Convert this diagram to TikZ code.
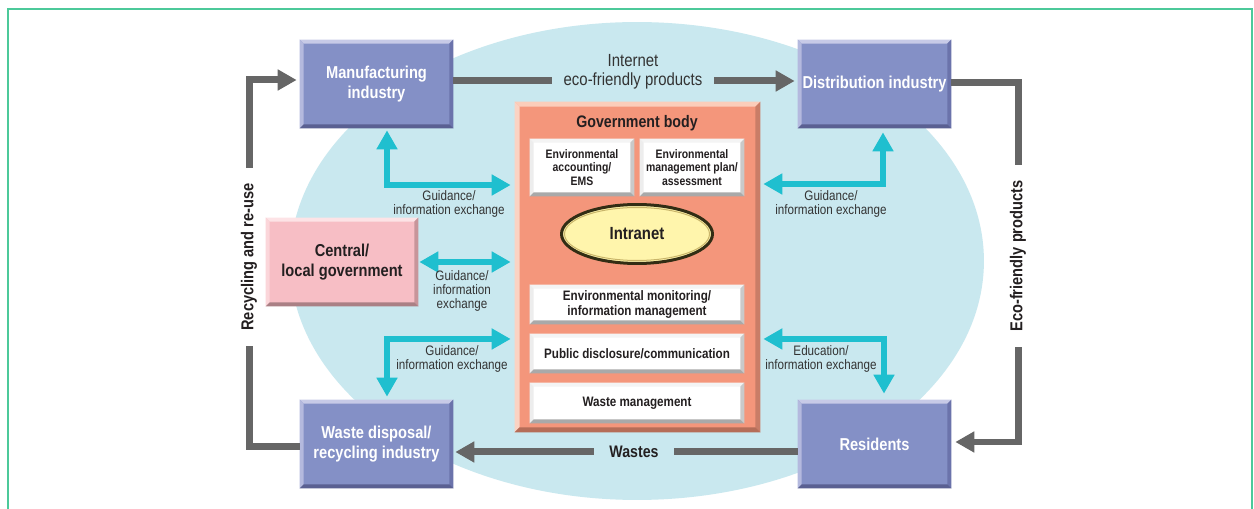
\documentclass[tikz,border=0pt]{standalone}
\usepackage{fontspec}
\setmainfont{Liberation Sans}[FakeStretch=0.85]
\usetikzlibrary{arrows.meta,calc,shapes.geometric}
\definecolor{frame}{HTML}{4CC99A}
\definecolor{ell}{HTML}{C9E8EF}
\definecolor{bx}{HTML}{8490C6}
\definecolor{bxT}{HTML}{C7CAE7}
\definecolor{bxL}{HTML}{B4B9DE}
\definecolor{bxR}{HTML}{6B73AB}
\definecolor{bxB}{HTML}{5A6092}
\definecolor{pk}{HTML}{F7BEC5}
\definecolor{pkT}{HTML}{FDE3E6}
\definecolor{pkL}{HTML}{FBD6DA}
\definecolor{pkR}{HTML}{C7959A}
\definecolor{pkB}{HTML}{AA8085}
\definecolor{gv}{HTML}{F4967B}
\definecolor{gvT}{HTML}{FBCDBA}
\definecolor{gvL}{HTML}{FAD3C3}
\definecolor{gvR}{HTML}{C97D67}
\definecolor{gvB}{HTML}{B56D58}
\definecolor{wbT}{HTML}{F4F4F4}
\definecolor{wbL}{HTML}{EDEDED}
\definecolor{wbR}{HTML}{C9C9C9}
\definecolor{wbB}{HTML}{A9A9A9}
\definecolor{cy}{HTML}{1FBFCF}
\definecolor{gr}{HTML}{666666}
\definecolor{txt}{HTML}{231F20}
\definecolor{lab}{HTML}{333333}
\definecolor{yel}{HTML}{FFF5AC}
\definecolor{gold}{HTML}{C9B56A}

\newcommand{\bevel}[6]{%
  \fill[#2] (#1.north west) -- (#1.north east) -- ($(#1.north east)+(-#6,#6)$) -- ($(#1.north west)+(#6,#6)$) -- cycle;
  \fill[#3] (#1.north west) -- ($(#1.north west)+(#6,#6)$) -- ($(#1.south west)+(#6,-#6)$) -- (#1.south west) -- cycle;
  \fill[#4] (#1.north east) -- (#1.south east) -- ($(#1.south east)+(-#6,-#6)$) -- ($(#1.north east)+(-#6,#6)$) -- cycle;
  \fill[#5] (#1.south west) -- (#1.south east) -- ($(#1.south east)+(-#6,-#6)$) -- ($(#1.south west)+(#6,-#6)$) -- cycle;
}

\tikzset{
 big/.style={font=\fontsize{9.8}{11.3}\selectfont\bfseries, align=center},
 bluebox/.style={big, fill=bx, text=white, minimum width=3.06cm, minimum height=1.76cm, inner sep=0pt},
 pinkbox/.style={big, fill=pk, text=txt, minimum width=3.04cm, minimum height=1.76cm, inner sep=0pt},
 govbox/.style={fill=gv, minimum width=4.9cm, minimum height=6.6cm, inner sep=0pt},
 whitebox/.style={fill=white, text=txt, font=\fontsize{7.8}{8.4}\selectfont\bfseries, align=center, minimum width=4.28cm, minimum height=0.78cm, inner sep=0pt},
 smallbox/.style={whitebox, font=\fontsize{7}{7.9}\selectfont\bfseries, minimum width=2.08cm, minimum height=1.14cm},
 lab/.style={font=\fontsize{7.8}{8}\selectfont, text=lab, align=center, inner sep=0pt},
 garrow/.style={draw=gr, line width=0.14cm, -{Triangle[length=0.38cm,width=0.4cm]}},
 carrow/.style={draw=cy, line width=0.11cm, {Triangle[length=0.38cm,width=0.4cm]}-{Triangle[length=0.38cm,width=0.4cm]}},
 rotlab/.style={big, text=txt, rotate=90, fill=white, inner xsep=0.3cm, inner ysep=0.1cm},
}

\begin{document}
\begin{tikzpicture}[x=0.02cm, y=-0.02cm]
\clip (0,0) rectangle (1254,509);
\fill[white] (0,0) rectangle (1254,509);
\draw[frame, line width=0.04cm] (8,9) rectangle (1252,540);
\fill[ell] (637,261) ellipse [x radius=6.94cm, y radius=4.78cm];

% government body
\node[govbox] (gov) at (637.5,267) {};
\bevel{gov}{gvT}{gvL}{gvR}{gvB}{5}
\node[big, text=txt, font=\fontsize{9.5}{11}\selectfont\bfseries] (govt) at (637,123) {Government body};
\node[smallbox] (acc) at (582,167.5) {Environmental\\accounting/\\EMS};
\bevel{acc}{wbT}{wbL}{wbR}{wbB}{4}
\node[smallbox] (plan) at (692,167.5) {Environmental\\management plan/\\assessment};
\bevel{plan}{wbT}{wbL}{wbR}{wbB}{4}
\node[ellipse, fill=yel, draw={rgb,255:red,50;green,45;blue,20}, line width=0.06cm, minimum width=3.02cm, minimum height=1.18cm, inner sep=0pt, font=\fontsize{10}{11}\selectfont\bfseries, text=txt] (intra) at (637,234) {Intranet};
\draw[gold, line width=0.02cm] (intra.center) ellipse [x radius=1.45cm, y radius=0.53cm];
\node[whitebox] (mon) at (637,304.5) {Environmental monitoring/\\information management};
\bevel{mon}{wbT}{wbL}{wbR}{wbB}{4}
\node[whitebox] (pub) at (637,353.5) {Public disclosure/communication};
\bevel{pub}{wbT}{wbL}{wbR}{wbB}{4}
\node[whitebox, minimum height=0.8cm] (wm) at (637,403) {Waste management};
\bevel{wm}{wbT}{wbL}{wbR}{wbB}{4}

% outer boxes
\node[bluebox] (man) at (376.5,84) {Manufacturing\\industry};
\bevel{man}{bxT}{bxL}{bxR}{bxB}{4}
\node[bluebox] (dist) at (874.5,84) {Distribution industry};
\bevel{dist}{bxT}{bxL}{bxR}{bxB}{4}
\node[bluebox] (waste) at (376.5,444) {Waste disposal/\\recycling industry};
\bevel{waste}{bxT}{bxL}{bxR}{bxB}{4}
\node[bluebox] (res) at (874.5,444) {Residents};
\bevel{res}{bxT}{bxL}{bxR}{bxB}{4}
\node[pinkbox] (cen) at (342,262) {Central/\\local government};
\bevel{cen}{pkT}{pkL}{pkR}{pkB}{4}

% gray flows
\draw[garrow, shorten >=0.06cm] ([yshift=0.06cm]man.east) -- ([yshift=0.06cm]dist.west);
\node[font=\fontsize{10}{11.3}\selectfont, text=lab, fill=ell, inner xsep=0.24cm, inner ysep=0pt] (ecoprod) at (633,81) {eco-friendly products};
\node[font=\fontsize{10}{11.3}\selectfont, text=lab, inner sep=0pt] (inet) at (633,61) {Internet};

\coordinate (rc) at (1018,256);
\draw[garrow, shorten >=0.08cm] ([yshift=0.02cm]dist.east) -| (rc) |- ([yshift=0.04cm]res.east);
\node[rotlab] (ecot) at (rc) {Eco-friendly products};

\coordinate (lc) at (249,257);
\draw[garrow, shorten >=0.06cm] ([yshift=-0.06cm]waste.west) -| (lc) |- ([yshift=0.08cm]man.west);
\node[rotlab] (rect) at (lc) {Recycling and re-use};

\draw[garrow, shorten >=0.04cm] ([yshift=-0.16cm]res.west) -- ([yshift=-0.16cm]waste.east);
\node[big, text=txt, font=\fontsize{9.5}{11}\selectfont\bfseries, fill=ell, inner xsep=0.3cm, inner ysep=0.05cm] (wastes) at (634,452) {Wastes};

% cyan flows
\draw[carrow, shorten <=0.04cm, shorten >=0.08cm] ([xshift=0.21cm]man.south) |- ([yshift=1.64cm]gov.west);
\draw[carrow, shorten <=0.06cm, shorten >=0.08cm] ([yshift=1.66cm]gov.east) -| ([xshift=0.17cm]dist.south);
\draw[carrow, shorten <=0.02cm, shorten >=0.08cm] (cen.east) -- (cen.east -| gov.west);
\draw[carrow, shorten <=0.08cm, shorten >=0.06cm] ([yshift=-1.44cm]gov.west) -| ([xshift=0.21cm]waste.north);
\draw[carrow, shorten <=0.06cm, shorten >=0.12cm] ([yshift=-1.44cm]gov.east) -| ([xshift=0.19cm]res.north);

% labels
\node[lab] (l1) at (449,204) {Guidance/\\information exchange};
\node[lab] (l2) at (831,204) {Guidance/\\information exchange};
\node[lab] (l3) at (462,291) {Guidance/\\information\\exchange};
\node[lab] (l4) at (452,359) {Guidance/\\information exchange};
\node[lab] (l5) at (821,359) {Education/\\information exchange};
\end{tikzpicture}
\end{document}
